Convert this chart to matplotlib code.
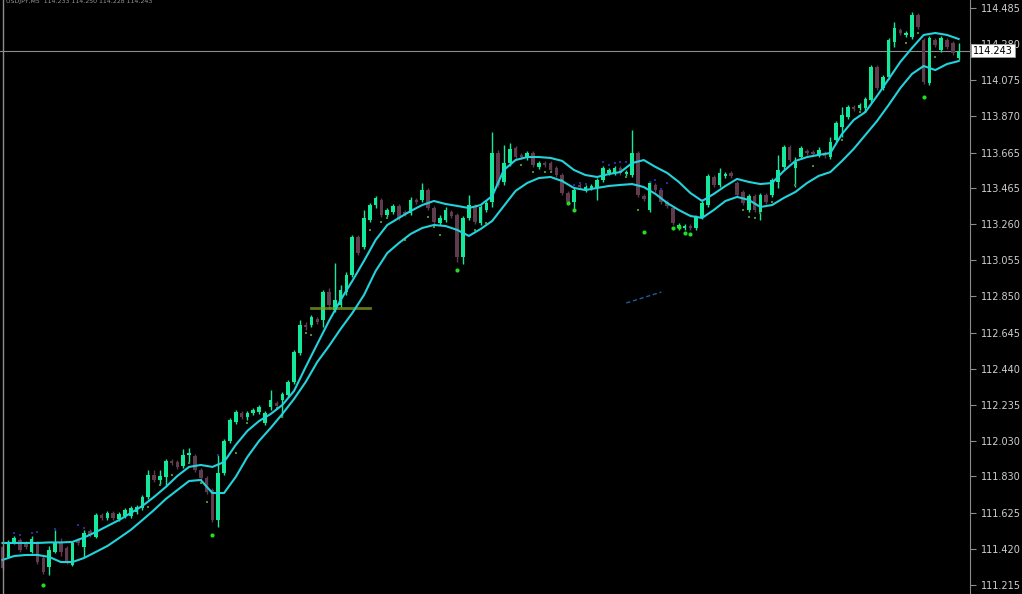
import matplotlib
matplotlib.use("Agg")
import matplotlib.pyplot as plt
import matplotlib.transforms as mtransforms
from matplotlib.lines import Line2D
import numpy as np

# ---------------- data (USDJPY candles) ----------------
opens = [
    111.430, 111.374, 111.459, 111.470, 111.453, 111.402, 111.453, 111.368, 111.317, 111.402,
    111.459, 111.425, 111.328, 111.470, 111.430, 111.521, 111.487, 111.612, 111.595, 111.623,
    111.589, 111.606, 111.606, 111.629, 111.651, 111.714, 111.838, 111.810, 111.827, 111.918,
    111.912, 111.889, 111.952, 111.946, 111.867, 111.821, 111.753, 111.583, 111.850, 112.031,
    112.139, 112.190, 112.167, 112.190, 112.195, 112.133, 112.224, 112.246, 112.263, 112.292,
    112.365, 112.530, 112.688, 112.688, 112.722, 112.717, 112.875, 112.773, 112.802, 112.875,
    112.972, 113.187, 113.130, 113.283, 113.368, 113.397, 113.312, 113.329, 113.363, 113.329,
    113.323, 113.397, 113.397, 113.453, 113.351, 113.266, 113.283, 113.329, 113.312, 113.074,
    113.295, 113.363, 113.266, 113.340, 113.385, 113.663, 113.499, 113.606, 113.691, 113.652,
    113.635, 113.663, 113.584, 113.606, 113.606, 113.578, 113.538, 113.436, 113.385, 113.482,
    113.453, 113.465, 113.465, 113.510, 113.550, 113.550, 113.578, 113.544, 113.538, 113.663,
    113.419, 113.340, 113.482, 113.453, 113.385, 113.351, 113.238, 113.238, 113.249, 113.238,
    113.300, 113.368, 113.527, 113.482, 113.533, 113.550, 113.493, 113.442, 113.340, 113.419,
    113.329, 113.425, 113.425, 113.499, 113.584, 113.697, 113.578, 113.640, 113.674, 113.669,
    113.652, 113.663, 113.640, 113.737, 113.810, 113.867, 113.924, 113.918, 113.918, 113.963,
    114.150, 114.031, 114.094, 114.292, 114.360, 114.332, 114.320, 114.445, 114.303, 114.060,
    114.303, 114.247, 114.303, 114.286, 114.201,
]
highs = [
    111.442, 111.470, 111.493, 111.481, 111.464, 111.493, 111.464, 111.379, 111.436, 111.527,
    111.481, 111.436, 111.464, 111.481, 111.527, 111.532, 111.623, 111.623, 111.634, 111.634,
    111.629, 111.651, 111.663, 111.668, 111.725, 111.867, 111.867, 111.867, 111.929, 111.929,
    111.923, 111.986, 111.991, 111.957, 111.878, 111.833, 111.765, 111.952, 112.042, 112.161,
    112.207, 112.201, 112.201, 112.218, 112.235, 112.201, 112.320, 112.258, 112.309, 112.377,
    112.547, 112.717, 112.705, 112.745, 112.734, 112.887, 112.898, 113.040, 112.915, 112.989,
    113.198, 113.198, 113.340, 113.380, 113.419, 113.408, 113.351, 113.374, 113.374, 113.340,
    113.414, 113.408, 113.493, 113.465, 113.363, 113.312, 113.357, 113.340, 113.323, 113.306,
    113.425, 113.374, 113.368, 113.397, 113.782, 113.680, 113.708, 113.720, 113.703, 113.663,
    113.674, 113.674, 113.618, 113.618, 113.618, 113.589, 113.550, 113.448, 113.465, 113.493,
    113.482, 113.487, 113.521, 113.589, 113.578, 113.589, 113.589, 113.567, 113.793, 113.674,
    113.431, 113.504, 113.493, 113.465, 113.397, 113.363, 113.266, 113.261, 113.261, 113.312,
    113.391, 113.544, 113.538, 113.578, 113.555, 113.561, 113.504, 113.453, 113.431, 113.431,
    113.436, 113.436, 113.521, 113.652, 113.708, 113.708, 113.640, 113.703, 113.686, 113.680,
    113.697, 113.674, 113.754, 113.844, 113.924, 113.935, 113.935, 113.946, 113.980, 114.162,
    114.162, 114.105, 114.315, 114.405, 114.371, 114.354, 114.462, 114.456, 114.315, 114.326,
    114.315, 114.326, 114.315, 114.298, 114.286,
]
lows = [
    111.300, 111.368, 111.447, 111.402, 111.419, 111.396, 111.334, 111.277, 111.272, 111.396,
    111.379, 111.334, 111.323, 111.442, 111.374, 111.487, 111.481, 111.583, 111.583, 111.583,
    111.578, 111.595, 111.595, 111.617, 111.640, 111.702, 111.799, 111.782, 111.776, 111.895,
    111.872, 111.878, 111.906, 111.855, 111.810, 111.731, 111.572, 111.544, 111.838, 112.020,
    112.127, 112.156, 112.150, 112.178, 112.184, 112.122, 112.207, 112.218, 112.167, 112.280,
    112.354, 112.518, 112.660, 112.677, 112.694, 112.677, 112.779, 112.762, 112.790, 112.858,
    112.960, 113.085, 113.119, 113.272, 113.351, 113.300, 113.300, 113.317, 113.283, 113.306,
    113.312, 113.374, 113.385, 113.340, 113.261, 113.255, 113.272, 113.295, 113.045, 113.034,
    113.283, 113.261, 113.255, 113.329, 113.357, 113.470, 113.482, 113.589, 113.629, 113.629,
    113.623, 113.584, 113.572, 113.584, 113.555, 113.527, 113.425, 113.374, 113.340, 113.459,
    113.442, 113.453, 113.397, 113.499, 113.538, 113.538, 113.538, 113.533, 113.527, 113.414,
    113.391, 113.329, 113.442, 113.374, 113.351, 113.255, 113.227, 113.227, 113.227, 113.227,
    113.289, 113.357, 113.470, 113.470, 113.521, 113.521, 113.414, 113.368, 113.329, 113.329,
    113.283, 113.374, 113.414, 113.465, 113.572, 113.612, 113.470, 113.629, 113.652, 113.646,
    113.640, 113.635, 113.629, 113.725, 113.754, 113.856, 113.901, 113.907, 113.895, 113.952,
    114.020, 114.020, 114.082, 114.264, 114.332, 114.320, 114.309, 114.366, 114.054, 114.048,
    114.264, 114.235, 114.252, 114.218, 114.190,
]
closes = [
    111.311, 111.453, 111.481, 111.413, 111.430, 111.476, 111.345, 111.289, 111.413, 111.459,
    111.402, 111.345, 111.453, 111.453, 111.510, 111.498, 111.612, 111.595, 111.623, 111.595,
    111.617, 111.640, 111.651, 111.657, 111.714, 111.838, 111.810, 111.833, 111.918, 111.906,
    111.884, 111.952, 111.963, 111.867, 111.821, 111.742, 111.583, 111.850, 112.031, 112.150,
    112.195, 112.167, 112.190, 112.207, 112.224, 112.190, 112.263, 112.229, 112.297, 112.365,
    112.535, 112.688, 112.677, 112.734, 112.705, 112.875, 112.802, 112.830, 112.887, 112.972,
    113.187, 113.096, 113.295, 113.368, 113.408, 113.312, 113.340, 113.363, 113.295, 113.317,
    113.397, 113.385, 113.453, 113.351, 113.272, 113.295, 113.340, 113.306, 113.074, 113.295,
    113.368, 113.272, 113.357, 113.380, 113.663, 113.482, 113.606, 113.686, 113.640, 113.640,
    113.663, 113.595, 113.606, 113.595, 113.567, 113.538, 113.436, 113.385, 113.453, 113.470,
    113.470, 113.476, 113.510, 113.578, 113.567, 113.578, 113.550, 113.555, 113.663, 113.425,
    113.402, 113.493, 113.453, 113.385, 113.363, 113.266, 113.255, 113.249, 113.238, 113.300,
    113.380, 113.533, 113.482, 113.550, 113.544, 113.533, 113.425, 113.380, 113.419, 113.340,
    113.425, 113.385, 113.510, 113.567, 113.697, 113.623, 113.612, 113.691, 113.663, 113.657,
    113.680, 113.646, 113.725, 113.833, 113.878, 113.924, 113.912, 113.935, 113.969, 114.150,
    114.031, 114.094, 114.303, 114.371, 114.343, 114.343, 114.445, 114.377, 114.065, 114.315,
    114.275, 114.315, 114.264, 114.230, 114.243,
]

# envelope indicator, read every second bar
band_idx = list(range(0, 165, 2))
upper_band = [
    111.453, 111.453, 111.453, 111.453, 111.456, 111.456, 111.459, 111.484, 111.515, 111.549,
    111.583, 111.623, 111.663, 111.714, 111.770, 111.833, 111.884, 111.895, 111.884, 111.912,
    112.008, 112.088, 112.144, 112.184, 112.235, 112.314, 112.450, 112.581, 112.711, 112.830,
    112.938, 113.051, 113.170, 113.255, 113.295, 113.334, 113.368, 113.391, 113.374, 113.363,
    113.351, 113.368, 113.419, 113.567, 113.623, 113.640, 113.640, 113.635, 113.618, 113.567,
    113.538, 113.527, 113.544, 113.555, 113.606, 113.623, 113.584, 113.550, 113.499, 113.436,
    113.391, 113.431, 113.476, 113.516, 113.499, 113.487, 113.493, 113.561, 113.618, 113.640,
    113.652, 113.663, 113.771, 113.850, 113.895, 113.986, 114.082, 114.179, 114.258, 114.332,
    114.343, 114.332, 114.309,
]
lower_band = [
    111.357, 111.379, 111.385, 111.385, 111.374, 111.345, 111.345, 111.368, 111.402, 111.436,
    111.481, 111.527, 111.583, 111.640, 111.702, 111.753, 111.804, 111.810, 111.736, 111.736,
    111.827, 111.940, 112.031, 112.105, 112.184, 112.269, 112.365, 112.479, 112.569, 112.666,
    112.756, 112.858, 112.994, 113.096, 113.153, 113.204, 113.238, 113.255, 113.249, 113.227,
    113.193, 113.232, 113.278, 113.363, 113.448, 113.493, 113.521, 113.527, 113.504, 113.465,
    113.453, 113.465, 113.476, 113.482, 113.487, 113.470, 113.431, 113.380, 113.340, 113.306,
    113.295, 113.340, 113.391, 113.414, 113.397, 113.357, 113.368, 113.408, 113.442, 113.493,
    113.533, 113.555, 113.618, 113.686, 113.765, 113.844, 113.935, 114.031, 114.111, 114.156,
    114.133, 114.167, 114.184,
]

# signal markers (bar index, price)
olive_idx = [20, 25, 27, 29, 32, 34, 35, 40, 42, 47, 48, 52, 53, 63, 65, 66, 69, 73, 74, 75,
             81, 83, 89, 91, 93, 94, 96, 107, 109, 127, 128, 129, 130, 132, 136, 139, 144,
             147, 148, 155, 157, 160]
olive_px = [111.583, 111.657, 111.782, 111.838, 111.906, 111.793, 111.685, 111.963, 112.133,
            112.218, 112.167, 112.643, 112.632, 113.227, 113.272, 113.295, 113.170, 113.300,
            113.244, 113.198, 113.227, 113.266, 113.595, 113.555, 113.555, 113.555, 113.510,
            113.527, 113.340, 113.340, 113.300, 113.295, 113.323, 113.385, 113.482, 113.589,
            113.737, 113.895, 113.895, 114.286, 114.343, 114.207]
bright_idx = [7, 36, 78, 97, 98, 110, 115, 116, 117, 118, 158]
bright_px = [111.215, 111.498, 113.000, 113.380, 113.340, 113.215, 113.238, 113.244, 113.210,
             113.204, 113.980]
blue_idx = [2, 3, 5, 6, 9, 13, 14, 37, 98, 99, 100, 103, 104, 105, 106, 107, 111, 112, 113,
            114, 119, 120]
blue_px = [111.510, 111.498, 111.510, 111.515, 111.532, 111.555, 111.538, 111.952, 113.482,
           113.493, 113.487, 113.612, 113.595, 113.606, 113.612, 113.612, 113.499, 113.510,
           113.459, 113.493, 113.306, 113.397]

# chart objects
obj_line_idx = [53, 63]
obj_line_px = 112.785
dash_idx = [107, 113]
dash_px = [112.813, 112.875]

price_ticks = [114.485, 114.280, 114.075, 113.870, 113.665, 113.465, 113.260, 113.055,
               112.850, 112.645, 112.440, 112.235, 112.030, 111.830, 111.625, 111.420, 111.215]
last_price = 114.243
header_text = "USDJPY,M5  114.233 114.250 114.228 114.243"

# ---------------- styling ----------------
BULL = "#14e89a"
BEAR = "#5e3c4e"
BAND = "#22d3dc"
W, H = 1022, 594

fig = plt.figure(figsize=(W / 100, H / 100), dpi=100, facecolor="black")
ax = fig.add_axes([0, 0, 970 / W, 1])
ax.set_facecolor("black")

o = np.array(opens); c = np.array(closes)
hi = np.array(highs); lo = np.array(lows)
idx = np.arange(len(o))
bull = c >= o
cols = np.where(bull, BULL, BEAR)

ax.axhline(last_price, color="#8c8c8c", lw=0.8, zorder=1)

ax.vlines(idx, lo, hi, colors=cols, lw=1.0, zorder=2)
body_h = np.maximum(np.abs(c - o), 0.006)
ax.bar(idx, body_h, bottom=np.minimum(o, c), width=0.62, color=cols, linewidth=0, zorder=3)

ax.plot(olive_idx, olive_px, ls="none", marker="s", ms=2.0, mew=0, color="#4f8f22", zorder=4)
ax.plot(bright_idx, bright_px, ls="none", marker="o", ms=3.0, mew=0, color="#22dd22", zorder=4)
ax.plot(blue_idx, blue_px, ls="none", marker="s", ms=1.8, mew=0, color="#2a2aa0", zorder=4)

ax.plot(obj_line_idx, [obj_line_px, obj_line_px], color="#7fa020", lw=2.0, alpha=0.75, zorder=4)
ax.plot(dash_idx, dash_px, color="#1f5f9f", lw=1.0, ls=(0, (3, 2)), zorder=4)

ax.plot(band_idx, upper_band, color=BAND, lw=1.5, zorder=5)
ax.plot(band_idx, lower_band, color=BAND, lw=1.5, zorder=5)

ax.set_xlim(-2.5 / 5.83, (970 - 2.5) / 5.83)
ax.set_ylim(114.530 - 0.005667 * H, 114.530)

ax.yaxis.tick_right()
ax.set_yticks(price_ticks)
ax.set_yticklabels([f"{p:.3f}" for p in price_ticks])
ax.tick_params(axis="y", colors="#8c8c8c", labelcolor="#cfcfcf", length=4, width=0.8,
               direction="out", labelsize=7, pad=4)
ax.tick_params(axis="x", bottom=False, labelbottom=False)
for s in ["top", "bottom", "left"]:
    ax.spines[s].set_visible(False)
ax.spines["right"].set_color("#8c8c8c")
ax.spines["right"].set_linewidth(0.8)

trans = mtransforms.blended_transform_factory(ax.transAxes, ax.transData)
ax.text(1.003, last_price, f"{last_price:.3f}", transform=trans, va="center", ha="left",
        fontsize=7, color="black", zorder=10, clip_on=False,
        bbox=dict(boxstyle="square,pad=0.18", fc="white", ec="#9a9a9a", lw=0.6))

fig.add_artist(Line2D([2.5 / W, 2.5 / W], [0, 1], color="#8c8c8c", lw=1.0))
fig.text(6 / W, 1.0 - 2 / H, header_text, fontsize=4.5, color="#9a9a9a", va="center", ha="left")

fig.savefig("out.png", dpi=100, facecolor="black")
